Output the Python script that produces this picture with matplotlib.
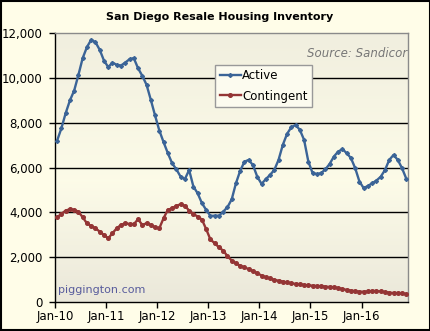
import numpy as np
import matplotlib
matplotlib.use("Agg")
import matplotlib.pyplot as plt
from matplotlib.patches import Rectangle

# Monthly counts, Jan 2010 - Nov 2016
active = [7200, 7750, 8420, 8990, 9430, 10130, 10880, 11370, 11700, 11590,
          11250, 10770, 10480, 10680, 10580, 10550, 10680, 10830, 10880, 10430,
          10090, 9690, 9020, 8320, 7650, 7130, 6640, 6190, 5920, 5590,
          5480, 5890, 5150, 4850, 4410, 4110, 3840, 3850, 3850, 4030,
          4230, 4580, 5300, 5860, 6260, 6340, 6100, 5590, 5270, 5480,
          5670, 5890, 6340, 7010, 7500, 7800, 7900, 7680, 7230, 6260,
          5750, 5710, 5750, 5920, 6160, 6490, 6710, 6820, 6640, 6420,
          5970, 5370, 5080, 5180, 5300, 5420, 5590, 5890, 6340, 6560,
          6340, 5970, 5500]
contingent = [3780, 3930, 4080, 4140, 4110, 4030, 3780, 3510, 3390, 3290,
              3140, 2990, 2840, 3070, 3290, 3440, 3510, 3480, 3470, 3690,
              3440, 3510, 3440, 3330, 3290, 3740, 4110, 4180, 4290, 4360,
              4290, 4080, 3930, 3810, 3680, 3250, 2790, 2620, 2440, 2290,
              2050, 1850, 1720, 1620, 1540, 1470, 1380, 1290, 1180, 1100,
              1050, 990, 950, 910, 870, 830, 810, 790, 760, 740,
              730, 710, 700, 690, 670, 660, 620, 580, 540, 510,
              480, 460, 460, 470, 490, 490, 470, 440, 420, 400,
              400, 390, 350]
year_labels = ["Jan-10", "Jan-11", "Jan-12", "Jan-13", "Jan-14", "Jan-15", "Jan-16"]
y_ticks = [0, 2000, 4000, 6000, 8000, 10000, 12000]

months = np.arange(len(active)) + 0.5

bg = "#fffde8"
fig = plt.figure(figsize=(4.31, 3.31), dpi=100, facecolor=bg)
ax = fig.add_axes([55 / 431, 1 - 302 / 331, 353 / 431, 269 / 331])
ax.set_facecolor(bg)

# soft vertical shading inside the plot area
grad = np.array([0.0, 0.45, 1.0])
shade = np.interp(np.linspace(0, 1, 200), grad, [0.0, 1.0, 0.35])
top_c = np.array([0.92, 0.91, 0.855])
mid_c = np.array([0.99, 0.985, 0.91])
img = top_c[None, :] + (mid_c - top_c)[None, :] * shade[:, None]
ax.imshow(img[:, None, :], extent=[0, 82.9, 12000, 0], aspect="auto", zorder=0)

for v in y_ticks[1:-1]:
    ax.axhline(v, color="black", lw=1.0, zorder=1)

ax.plot(months, active, color="#3b6497", lw=1.7, marker="D", ms=2.0,
        mec="#3b6497", label="Active", zorder=3)
ax.plot(months, contingent, color="#943535", lw=1.7, marker="o", ms=2.6,
        mec="#943535", label="Contingent", zorder=3)

ax.set_xlim(0, 82.9)
ax.set_ylim(0, 12000)
ax.set_xticks(np.arange(0, 73, 12))
ax.set_xticklabels(year_labels)
ax.set_yticks(y_ticks)
ax.set_yticklabels([f"{v:,}" for v in y_ticks])
ax.tick_params(axis="both", labelsize=8.5, colors="black", length=4, width=1)
ax.tick_params(axis="y", pad=5)
ax.tick_params(axis="x", pad=2)

for side in ["left", "bottom"]:
    ax.spines[side].set_color("black")
    ax.spines[side].set_linewidth(1.0)
for side in ["right", "top"]:
    ax.spines[side].set_color("#8a8a8a")
    ax.spines[side].set_linewidth(1.0)

fig.text(220 / 431, 1 - 17 / 331, "San Diego Resale Housing Inventory",
         ha="center", va="center", fontsize=8, fontweight="bold")
ax.text(0.997, 0.925, "Source: Sandicor", transform=ax.transAxes, ha="right",
        va="center", fontsize=8.5, style="italic", color="#777777")
ax.text(0.008, 0.045, "piggington.com", transform=ax.transAxes, ha="left",
        va="center", fontsize=8, color="#585c9c")

leg = ax.legend(loc="upper left", bbox_to_anchor=(0.453, 0.882), fontsize=8.5,
                frameon=True, fancybox=False, handlelength=1.8, handletextpad=0.1,
                borderpad=0.4, labelspacing=0.6, borderaxespad=0)
leg.get_frame().set_edgecolor("#999999")
leg.get_frame().set_facecolor("#fcfbef")
leg.get_frame().set_alpha(1)

fig.patches.append(Rectangle((0.002, 0.003), 0.996, 0.994, transform=fig.transFigure,
                             fill=False, edgecolor="black", lw=1.5))

fig.savefig("out.png", dpi=100, facecolor=bg)
